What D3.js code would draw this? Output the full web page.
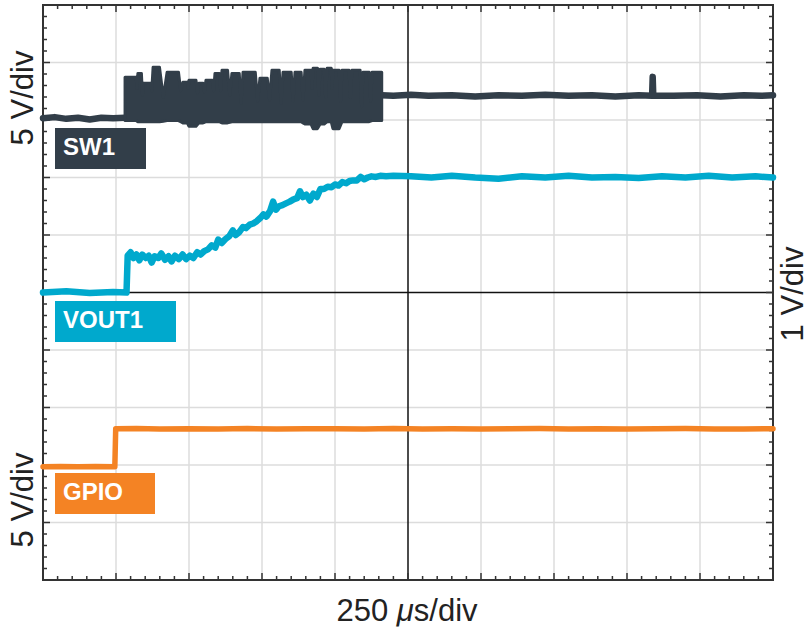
<!DOCTYPE html>
<html><head><meta charset="utf-8">
<script src="https://cdn.jsdelivr.net/npm/d3@7"></script>
<style>body{margin:0;background:#fff;} svg{display:block;font-family:"Liberation Sans",Arial,sans-serif;}</style>
</head><body><svg id="c" width="810" height="630"></svg>
<script>
// ---- data (time in µs, voltage in V) ----
const channelNames = ["SW1", "VOUT1", "GPIO"];
const xDivisions = [0,1,2,3,4,5,6,7,8,9,10];
const yDivisions = [-5,-4,-3,-2,-1,0,1,2,3,4,5];

// SW1: flat before switching
const sw1Pre = [[0,0.0],[40,0.1],[80,-0.05],[120,0.05],[160,-0.1],[200,0.05],[240,0.0],[281,0.05]];
// SW1: switching bursts [start µs, end µs, high V, dip V after burst, low V]
const sw1Pulses = [
 [281,319,3.57,2.6,-0.2],[325,337,3.9,2.0,-0.3],[344,368,3.04,2.4,-0.3],[377,399,4.43,1.8,-0.3],
 [425,464,4.0,2.4,-0.2],[479,494,3.13,2.6,-0.4],[500,524,3.3,2.2,-0.7],[534,548,3.04,2.3,-0.4],
 [558,580,3.3,2.4,-0.3],[589,604,3.9,2.4,-0.3],[613,632,4.17,2.0,-0.4],[647,672,3.9,1.3,-0.3],
 [685,727,4.0,1.5,-0.3],[743,768,3.48,1.6,-0.3],[784,809,4.17,1.3,-0.3],[822,850,4.0,1.5,-0.3],
 [863,884,4.0,1.6,-0.3],[897,918,4.17,2.6,-0.5],[925,940,4.35,2.0,-0.9],[949,963,4.26,1.8,-0.5],
 [973,987,4.35,2.6,-0.3],[993,1014,4.17,1.5,-0.9],[1024,1048,4.17,1.8,-0.3],[1058,1086,4.17,1.0,-0.3],
 [1096,1117,4.0,1.5,-0.3],[1127,1160,4.0,2.0,-0.2]];
// SW1: after switching (with one spike)
const sw1Post = [[1160,2.0],[1200,1.95],[1260,2.05],[1320,1.95],[1400,2.0],[1480,1.9],[1560,2.0],[1640,1.95],
 [1720,2.05],[1800,1.95],[1880,2.0],[1960,1.9],[2040,2.0],[2086,1.95],[2088,3.6],[2090,1.95],
 [2160,1.95],[2240,2.0],[2320,1.9],[2400,2.0],[2460,1.95],[2500,2.0]];

const voutT = [0,80,160,240,286,290,300,310,320,330,340,352,362,372,382,395,405,418,430,440,452,465,478,490,503,515,528,540,552,565,578,590,600,612,625,638,650,660,672,685,695,708,720,732,745,755,765,778,788,798,808,820,832,845,858,870,880,890,902,914,926,938,950,962,975,988,1000,1012,1025,1038,1050,1062,1075,1088,1100,1112,1125,1140,1155,1175,1200,1260,1330,1400,1480,1560,1640,1720,1800,1880,1960,2040,2120,2200,2280,2360,2440,2500];
const voutV = [0.0,0.02,-0.01,0.01,0.0,0.64,0.70,0.60,0.66,0.56,0.66,0.60,0.64,0.52,0.63,0.60,0.68,0.57,0.63,0.54,0.64,0.58,0.66,0.58,0.64,0.60,0.70,0.66,0.72,0.75,0.82,0.78,0.92,0.86,0.93,0.98,1.08,1.00,1.05,1.14,1.12,1.18,1.20,1.24,1.30,1.36,1.32,1.42,1.58,1.44,1.50,1.52,1.55,1.58,1.62,1.64,1.76,1.66,1.70,1.60,1.72,1.66,1.80,1.80,1.84,1.83,1.88,1.86,1.92,1.90,1.94,1.95,1.95,2.01,1.97,2.00,2.02,2.01,2.03,2.02,2.03,2.02,2.0,2.03,2.0,1.98,2.02,2.0,2.03,2.0,2.01,1.99,2.02,2.0,2.03,2.0,2.02,2.0];

const gpioT = [0,60,120,180,246,249,320,400,500,600,700,800,900,1000,1100,1200,1300,1400,1500,1600,1700,1800,1900,2000,2100,2200,2300,2400,2500];
const gpioV = [-0.05,-0.02,-0.06,-0.03,-0.05,3.25,3.28,3.22,3.26,3.24,3.27,3.23,3.26,3.25,3.22,3.27,3.24,3.26,3.23,3.25,3.27,3.24,3.26,3.22,3.25,3.27,3.24,3.23,3.25];

// ---- layout ----
const L = 43, R = 773, T = 5, B = 580;
const svg = d3.select("#c");
const x = d3.scaleLinear().domain([0, 2500]).range([L, R]);
const xDiv = d3.scaleLinear().domain([0, 10]).range([L, R]);
const yDiv = d3.scaleLinear().domain([-5, 5]).range([B, T]);

const colors = { SW1: "#323e49", VOUT1: "#00a9cd", GPIO: "#f48324" };
const chan = {
  SW1: { vdiv: 5, off: 3.03 },
  VOUT1: { vdiv: 1, off: 0 },
  GPIO: { vdiv: 5, off: -3.02 }
};
const yCh = (name) => (v) => yDiv(chan[name].off + v / chan[name].vdiv);

// grid
const g = svg.append("g");
g.selectAll("line.vg").data(xDivisions.filter(d => d > 0 && d < 10 && d !== 5)).join("line")
  .attr("x1", d => xDiv(d)).attr("x2", d => xDiv(d)).attr("y1", T).attr("y2", B)
  .attr("stroke", "#dcdcdc").attr("stroke-width", 1.5);
g.selectAll("line.hg").data(yDivisions.filter(d => d > -5 && d < 5 && d !== 0)).join("line")
  .attr("x1", L).attr("x2", R).attr("y1", d => yDiv(d)).attr("y2", d => yDiv(d))
  .attr("stroke", "#dcdcdc").attr("stroke-width", 1.5);
g.append("line").attr("x1", xDiv(5)).attr("x2", xDiv(5)).attr("y1", T).attr("y2", B).attr("stroke", "#111").attr("stroke-width", 1.5);
g.append("line").attr("x1", L).attr("x2", R).attr("y1", yDiv(0)).attr("y2", yDiv(0)).attr("stroke", "#111").attr("stroke-width", 1.5);

// ticks (every 1/5 division, pointing inward)
const tickG = svg.append("g").attr("stroke", "#333").attr("stroke-width", 1.5);
const minor = d3.range(0, 51).map(i => i / 5);
const len = d => (Math.abs(d - Math.round(d)) < 1e-6 ? 7 : 4);
tickG.selectAll("line.tt").data(minor).join("line")
  .attr("x1", d => xDiv(d)).attr("x2", d => xDiv(d)).attr("y1", T).attr("y2", d => T + len(d));
tickG.selectAll("line.bt").data(minor).join("line")
  .attr("x1", d => xDiv(d)).attr("x2", d => xDiv(d)).attr("y1", B).attr("y2", d => B - len(d));
const minorY = d3.range(0, 51).map(i => -5 + i / 5);
tickG.selectAll("line.lt").data(minorY).join("line")
  .attr("y1", d => yDiv(d)).attr("y2", d => yDiv(d)).attr("x1", L).attr("x2", d => L + len(d));
tickG.selectAll("line.rt").data(minorY).join("line")
  .attr("y1", d => yDiv(d)).attr("y2", d => yDiv(d)).attr("x1", R).attr("x2", d => R - len(d));

svg.append("rect").attr("x", L).attr("y", T).attr("width", R - L).attr("height", B - T)
  .attr("fill", "none").attr("stroke", "#333").attr("stroke-width", 2);

// ---- traces ----
const ySW = yCh("SW1");
const lineSW = d3.line().x(d => x(d[0])).y(d => ySW(d[1]));
svg.append("path").datum(sw1Pre).attr("d", lineSW)
  .attr("fill", "none").attr("stroke", colors.SW1).attr("stroke-width", 6.5)
  .attr("stroke-linejoin", "round").attr("stroke-linecap", "round");
svg.append("path").datum(sw1Post).attr("d", lineSW)
  .attr("fill", "none").attr("stroke", colors.SW1).attr("stroke-width", 6.5)
  .attr("stroke-linejoin", "round").attr("stroke-linecap", "round");
const env = [];
sw1Pulses.forEach((p, i) => {
  env.push({ t: p[0], hi: p[2], lo: p[4] });
  env.push({ t: p[1], hi: p[2], lo: p[4] });
  const nx = sw1Pulses[i + 1];
  if (nx) env.push({ t: (p[1] + nx[0]) / 2, hi: p[3], lo: (p[4] + nx[4]) / 2 });
});
svg.append("path").datum(env)
  .attr("d", d3.area().x(d => x(d.t)).y0(d => ySW(d.lo)).y1(d => ySW(d.hi)))
  .attr("fill", colors.SW1).attr("stroke", colors.SW1).attr("stroke-width", 3)
  .attr("stroke-linejoin", "round");

const yV = yCh("VOUT1");
svg.append("path").datum(voutT.map((t, i) => [t, voutV[i]]))
  .attr("d", d3.line().x(d => x(d[0])).y(d => yV(d[1])))
  .attr("fill", "none").attr("stroke", colors.VOUT1).attr("stroke-width", 6.5)
  .attr("stroke-linejoin", "round").attr("stroke-linecap", "round");

const yG = yCh("GPIO");
svg.append("path").datum(gpioT.map((t, i) => [t, gpioV[i]]))
  .attr("d", d3.line().x(d => x(d[0])).y(d => yG(d[1])))
  .attr("fill", "none").attr("stroke", colors.GPIO).attr("stroke-width", 5.5)
  .attr("stroke-linejoin", "round").attr("stroke-linecap", "round");

// ---- channel labels ----
const boxes = [
  { name: "SW1", y: 128, w: 91 },
  { name: "VOUT1", y: 301, w: 121 },
  { name: "GPIO", y: 473, w: 100 }
];
boxes.forEach(b => {
  svg.append("rect").attr("x", 55).attr("y", b.y).attr("width", b.w).attr("height", 41).attr("fill", colors[b.name]);
  svg.append("text").attr("x", 63).attr("y", b.y + 26.5).attr("fill", "#fff")
    .attr("font-size", 24).attr("font-weight", "bold").text(b.name);
});

// ---- axis labels ----
const lab = (tx, ty, s) => svg.append("text").attr("transform", `translate(${tx},${ty}) rotate(-90)`)
  .attr("text-anchor", "middle").attr("font-size", 31).attr("fill", "#222").text(s);
lab(33, 98, "5 V/div");
lab(33, 500, "5 V/div");
lab(803, 294, "1 V/div");
const bt = svg.append("text").attr("x", 407).attr("y", 621).attr("text-anchor", "middle")
  .attr("font-size", 31).attr("fill", "#222");
bt.append("tspan").text("250 ");
bt.append("tspan").attr("font-style", "italic").text("\u03bc");
bt.append("tspan").text("s/div");
</script></body></html>
